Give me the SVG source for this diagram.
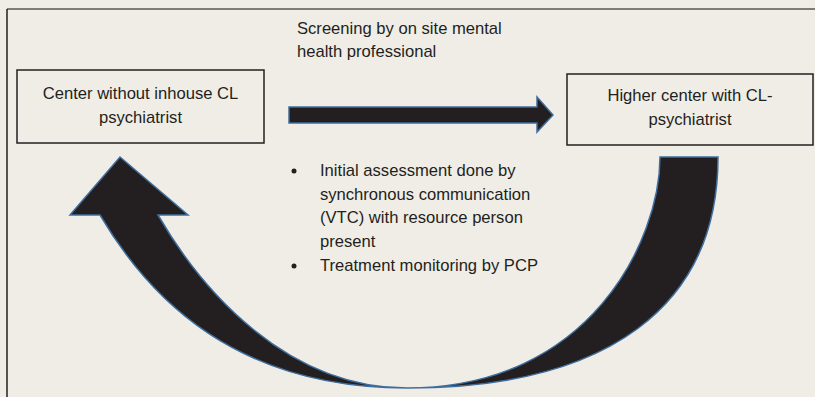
<svg xmlns="http://www.w3.org/2000/svg" width="815" height="397" viewBox="0 0 815 397">
<style>
.t{font-family:"Liberation Sans","Open Sans",sans-serif;font-size:16.6px;fill:#231f20}
.box{fill:none;stroke:#231f20;stroke-width:1.5}
.arr{fill:#231f20;stroke:#3f6e9e;stroke-width:1.5;stroke-linejoin:miter}
</style>
<rect x="0" y="0" width="815" height="397" fill="#f0ede6"/>
<line x1="7" y1="9" x2="815" y2="9" stroke="#7f7b76" stroke-width="2"/>
<line x1="7" y1="9" x2="7" y2="397" stroke="#231f20" stroke-width="1.5"/>
<g id="node-left">
<rect class="box" x="17" y="70" width="247" height="73"/>
<text class="t" x="140.5" y="99" text-anchor="middle">Center without inhouse CL</text>
<text class="t" x="140.5" y="123" text-anchor="middle">psychiatrist</text>
</g>
<g id="node-right">
<rect class="box" x="567" y="74" width="246" height="71"/>
<text class="t" x="690" y="101" text-anchor="middle">Higher center with CL-</text>
<text class="t" x="690" y="125" text-anchor="middle">psychiatrist</text>
</g>
<g id="label-screening">
<text class="t" x="297" y="34">Screening by on site mental</text>
<text class="t" x="297" y="57">health professional</text>
</g>
<g id="label-bullets">
<circle cx="294" cy="171" r="2.5" fill="#231f20"/>
<text class="t" x="320" y="176">Initial assessment done by</text>
<text class="t" x="320" y="200">synchronous communication</text>
<text class="t" x="320" y="223">(VTC) with resource person</text>
<text class="t" x="320" y="247">present</text>
<circle cx="294" cy="266" r="2.5" fill="#231f20"/>
<text class="t" x="320" y="271">Treatment monitoring by PCP</text>
</g>
<g id="connectors">
<path class="arr" d="M289,107 L537,107 L537,97 L553,115 L537,132 L537,123 L289,123 Z"/>
<path class="arr" d="M718,157 C718,307 607,388 407,388 C237,388 150,300 100,215 L70,215 L120,157 L188,215 L158,215 C202,291 287,388 407,388 C590,388 660,240 660,157 Z"/>
</g>
</svg>
